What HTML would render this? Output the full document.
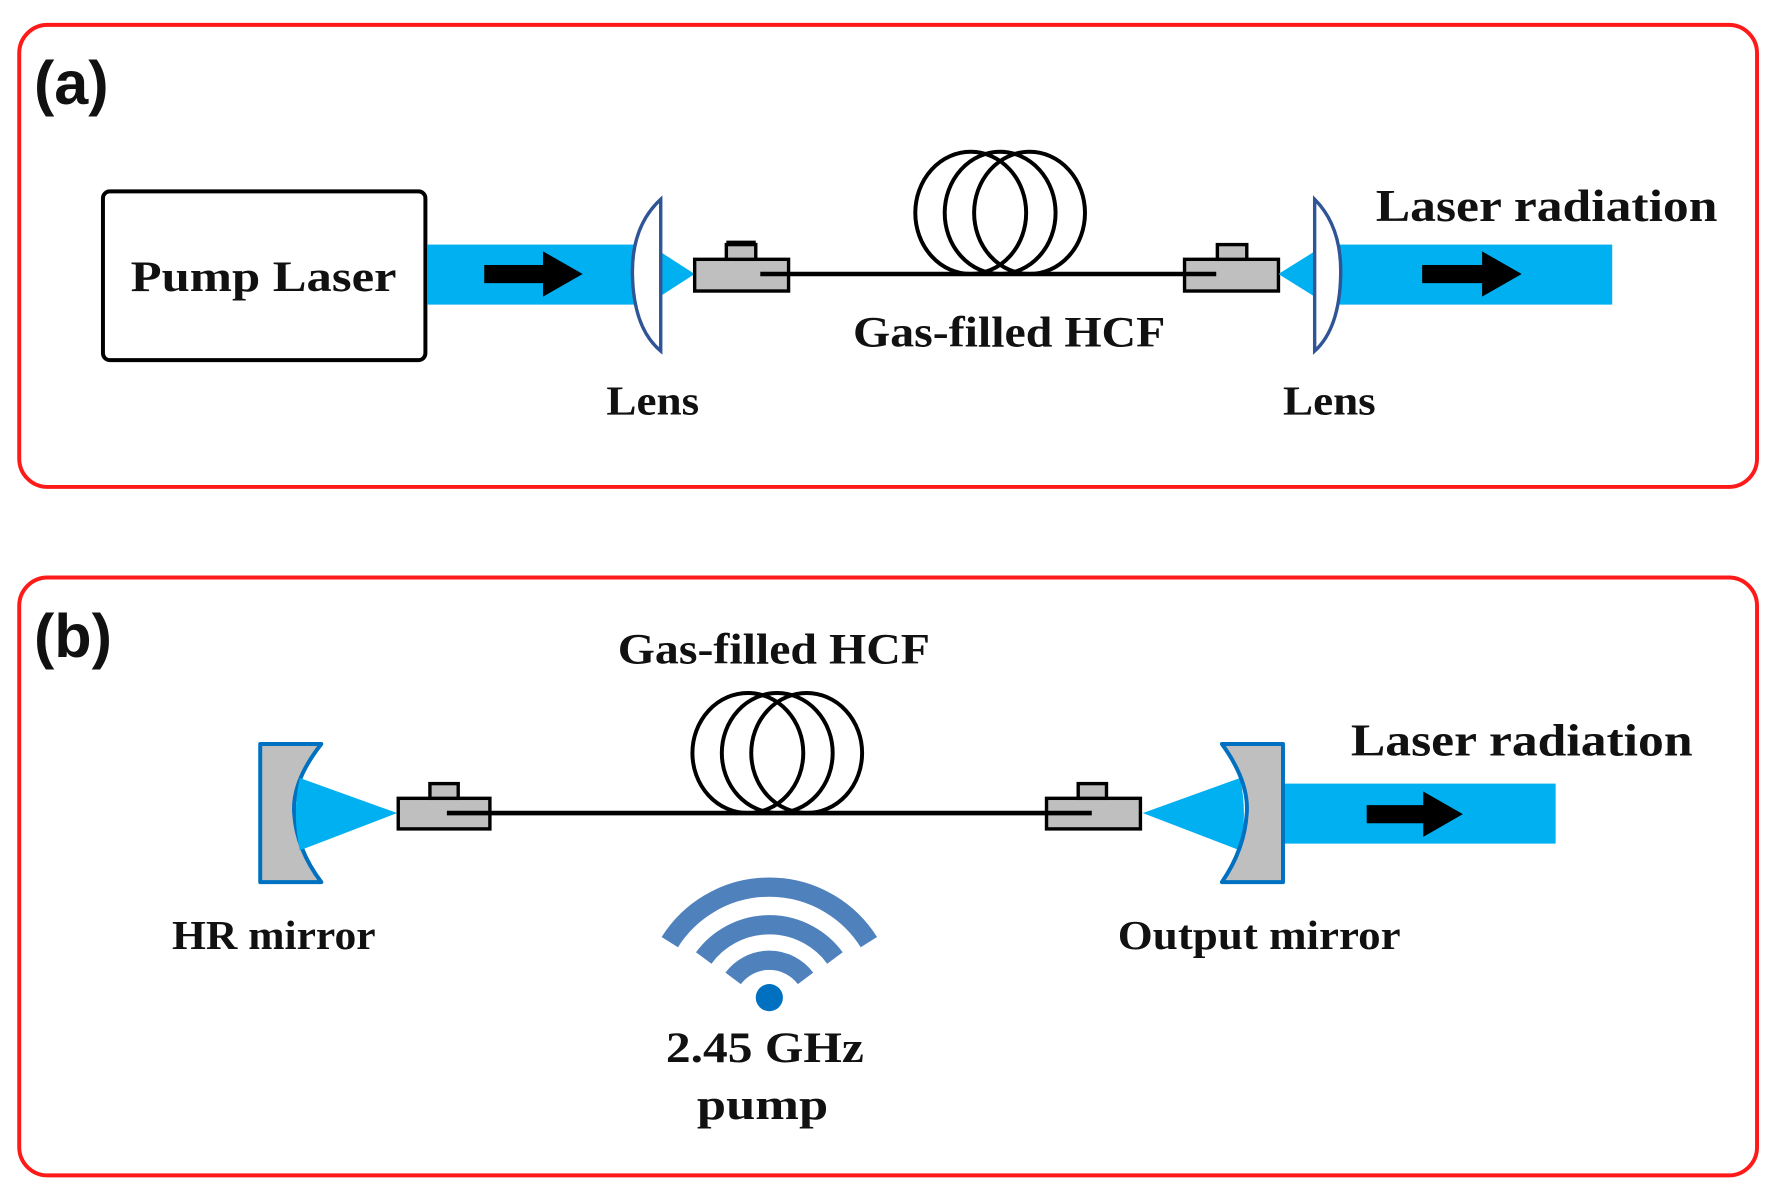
<!DOCTYPE html>
<html><head><meta charset="utf-8"><style>
html,body{margin:0;padding:0;background:#fff;width:1774px;height:1189px;overflow:hidden}
svg{display:block}
.t{font-family:"Liberation Serif",serif;font-weight:bold;fill:#111}
.l{font-family:"Liberation Sans",sans-serif;font-weight:bold;fill:#111}
</style></head><body>
<svg width="1774" height="1189" viewBox="0 0 1568 1050" preserveAspectRatio="none">
<!-- panels -->
<rect x="17" y="22" width="1536" height="408" rx="25" fill="none" stroke="#ff1a1a" stroke-width="3.5"/>
<rect x="17" y="510" width="1536" height="528" rx="25" fill="none" stroke="#ff1a1a" stroke-width="3.5"/>
<text class="l" x="30" y="92" font-size="54">(a)</text>
<text class="l" x="30" y="580" font-size="54">(b)</text>

<!-- panel a -->
<rect x="91" y="169" width="285" height="149" rx="6" fill="#fff" stroke="#000" stroke-width="3.5"/>
<text class="t" x="233" y="257" font-size="38" text-anchor="middle" textLength="235" lengthAdjust="spacingAndGlyphs">Pump Laser</text>
<rect x="378" y="216" width="185" height="53" fill="#00b0f0"/>
<polygon points="428,234 480,234 480,222 515,242 480,262 480,250 428,250" fill="#000"/>
<polygon points="583,222 614,242 583,262" fill="#00b0f0"/>
<path d="M584,176 Q558,200 559,243 Q560,290 584,310 Z" fill="#fff" stroke="#2f5597" stroke-width="3"/>
<g stroke="#000" stroke-width="3">
<rect x="614" y="229" width="83" height="28" fill="#bfbfbf"/>
<rect x="642" y="216" width="26" height="13" fill="#bfbfbf"/>
<line x1="668" y1="214" x2="642" y2="214"/>
</g>
<line x1="672" y1="242" x2="1075" y2="242" stroke="#000" stroke-width="4"/>
<g fill="none" stroke="#000" stroke-width="3.5">
<ellipse cx="858" cy="188" rx="49" ry="54"/>
<ellipse cx="884" cy="188" rx="49" ry="54"/>
<ellipse cx="910" cy="188" rx="49" ry="54"/>
</g>
<text class="t" x="892" y="306" font-size="38" text-anchor="middle" textLength="276" lengthAdjust="spacingAndGlyphs">Gas-filled HCF</text>
<g stroke="#000" stroke-width="3">
<rect x="1047" y="229" width="83" height="28" fill="#bfbfbf"/>
<rect x="1076" y="216" width="26" height="13" fill="#bfbfbf"/>
</g>
<line x1="1047" y1="242" x2="1075" y2="242" stroke="#000" stroke-width="4"/>
<polygon points="1162,222 1130,242 1162,262" fill="#00b0f0"/>
<rect x="1183" y="216" width="242" height="53" fill="#00b0f0"/>
<path d="M1162,176 Q1186,200 1185,243 Q1184,290 1162,310 Z" fill="#fff" stroke="#2f5597" stroke-width="3"/>
<polygon points="1257,234 1310,234 1310,222 1345,242 1310,262 1310,250 1257,250" fill="#000"/>
<text class="t" x="1367" y="195" font-size="40" text-anchor="middle" textLength="302" lengthAdjust="spacingAndGlyphs">Laser radiation</text>
<text class="t" x="577" y="366" font-size="36" text-anchor="middle" textLength="82" lengthAdjust="spacingAndGlyphs">Lens</text>
<text class="t" x="1175" y="366" font-size="36" text-anchor="middle" textLength="82" lengthAdjust="spacingAndGlyphs">Lens</text>

<!-- panel b -->
<text class="t" x="684" y="586" font-size="38" text-anchor="middle" textLength="276" lengthAdjust="spacingAndGlyphs">Gas-filled HCF</text>
<g fill="none" stroke="#000" stroke-width="3.5">
<ellipse cx="661" cy="665" rx="49" ry="53"/>
<ellipse cx="687" cy="665" rx="49" ry="53"/>
<ellipse cx="713" cy="665" rx="49" ry="53"/>
</g>
<path d="M230,657 L284,657 Q258,690 260,718 Q262,750 284,779 L230,779 Z" fill="#bfbfbf" stroke="#0070c0" stroke-width="3.5" stroke-linejoin="round"/>
<path d="M265,687 L351,718 L265,751 Q258,718 265,687 Z" fill="#00b0f0"/>
<g stroke="#000" stroke-width="3">
<rect x="352" y="705" width="81" height="27" fill="#bfbfbf"/>
<rect x="380" y="692" width="25" height="13" fill="#bfbfbf"/>
</g>
<line x1="395" y1="718" x2="955" y2="718" stroke="#000" stroke-width="4"/>
<g stroke="#000" stroke-width="3">
<rect x="925" y="705" width="83" height="27" fill="#bfbfbf"/>
<rect x="953" y="692" width="25" height="13" fill="#bfbfbf"/>
</g>
<line x1="925" y1="718" x2="965" y2="718" stroke="#000" stroke-width="4"/>
<path d="M1010,718 L1096,687 Q1103,718 1096,751 Z" fill="#00b0f0"/>
<rect x="1135" y="692" width="240" height="53" fill="#00b0f0"/>
<path d="M1134,657 L1080,657 Q1104,690 1102,718 Q1100,750 1080,779 L1134,779 Z" fill="#bfbfbf" stroke="#0070c0" stroke-width="3.5" stroke-linejoin="round"/>
<polygon points="1208,711 1258,711 1258,699 1293,719 1258,739 1258,727 1208,727" fill="#000"/>
<text class="t" x="1345" y="667" font-size="40" text-anchor="middle" textLength="302" lengthAdjust="spacingAndGlyphs">Laser radiation</text>
<text class="t" x="242" y="838" font-size="36" text-anchor="middle" textLength="180" lengthAdjust="spacingAndGlyphs">HR mirror</text>
<text class="t" x="1113" y="838" font-size="36" text-anchor="middle" textLength="250" lengthAdjust="spacingAndGlyphs">Output mirror</text>
<!-- wifi -->
<g fill="none" stroke="#4f81bd" stroke-width="17" stroke-linecap="butt">
<path d="M648,864 A40,40 0 0 1 712,864"/>
<path d="M622,846 A72,72 0 0 1 738,846"/>
<path d="M592,832 A104,104 0 0 1 768,832"/>
</g>
<circle cx="680" cy="881" r="12" fill="#0070c0"/>
<text class="t" x="676" y="938" font-size="38" text-anchor="middle" textLength="175" lengthAdjust="spacingAndGlyphs">2.45 GHz</text>
<text class="t" x="674" y="988" font-size="38" text-anchor="middle" textLength="116" lengthAdjust="spacingAndGlyphs">pump</text>
</svg>
</body></html>
